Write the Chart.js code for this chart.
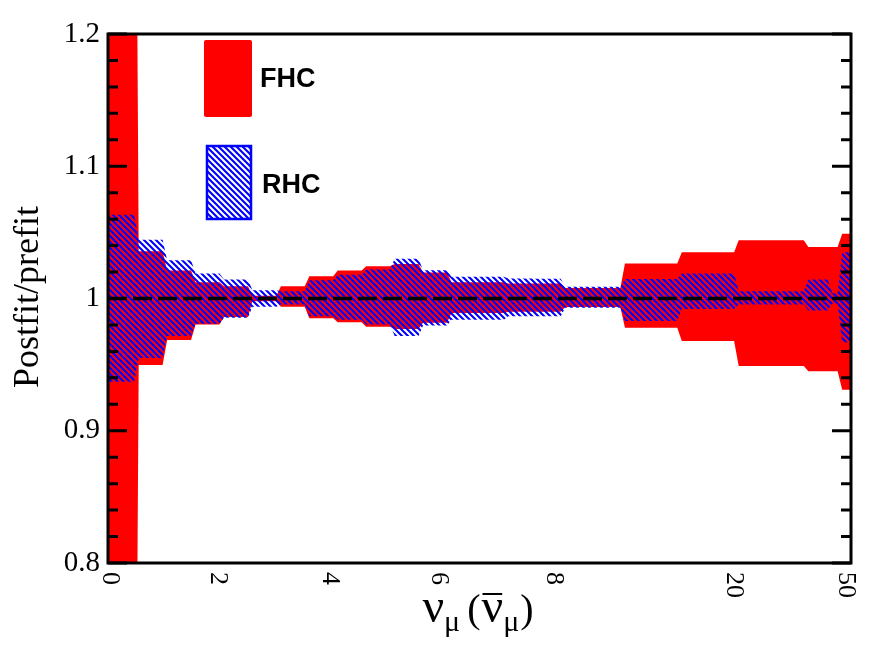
<!DOCTYPE html>
<html><head><meta charset="utf-8">
<script src="https://cdn.jsdelivr.net/npm/chart.js@4.4.1/dist/chart.umd.min.js"></script>
<style>html,body{margin:0;padding:0;background:#fff}#wrap{width:896px;height:672px;position:relative}</style>
</head><body><div id="wrap"><canvas id="c"></canvas></div>
<script>
// ---- data (bin index axis) ----
const binEdges = [0,1,2,3,4,5,6,7,8,9,10,11,12,13,14,15,16,18.1,20.1,22.1,24.55,25.39,25.74,26.13];
const fhcUpper = [1.6,1.0357,1.0211,1.0123,1.0093,1.002,1.0093,1.0168,1.0211,1.0244,1.026,1.0196,1.0123,1.0123,1.0113,1.0113,1.008,1.0264,1.035,1.044,1.039,1.039,1.049];
const fhcLower = [0.4,0.9497,0.9686,0.9804,0.986,0.998,0.9937,0.985,0.982,0.9786,0.977,0.9816,0.989,0.989,0.990,0.990,0.9935,0.9779,0.9678,0.949,0.945,0.945,0.931];
const rhcUpper = [1.0634,1.0445,1.0289,1.0189,1.0143,1.0063,1.0055,1.0138,1.018,1.0219,1.030,1.0214,1.0164,1.0164,1.0152,1.0149,1.0088,1.0148,1.0189,1.0055,1.0143,1.004,1.035];
const rhcLower = [0.937,0.955,0.9716,0.981,0.9854,0.9937,0.9955,0.9866,0.984,0.9804,0.9716,0.9796,0.984,0.984,0.9866,0.9866,0.993,0.983,0.992,0.9955,0.991,0.996,0.967];
const seriesNames = ['FHC','RHC'];
const tickPositions = [0.07,3.87,7.81,11.64,15.69,22.0,25.96];
const tickLabels = ['0','2','4','6','8','20','50'];
const yMin = 0.8, yMax = 1.2, yMajorStep = 0.1, yMinorStep = 0.02;
const refLine = 1;
const xMin = binEdges[0], xMax = binEdges[binEdges.length-1];

// step polygon points with short slanted transitions between bins
function stepPoints(edges, vals, s){
  const pts=[];
  for(let i=0;i<vals.length;i++){
    const a = i===0 ? edges[i] : edges[i]+s;
    const b = i===vals.length-1 ? edges[i+1] : edges[i+1]-s;
    pts.push({x:a,y:vals[i]},{x:b,y:vals[i]});
  }
  return pts;
}
const SL = 0.08;

// hatch pattern
const T=6;
const pc=document.createElement('canvas'); pc.width=T; pc.height=T;
const pg=pc.getContext('2d'); pg.strokeStyle='#0000ff'; pg.lineWidth=2.1;
pg.beginPath(); pg.moveTo(-2,-2); pg.lineTo(T+2,T+2); pg.moveTo(-2,T-2); pg.lineTo(2,T+2); pg.moveTo(T-2,-2); pg.lineTo(T+2,2); pg.stroke();
const hatch = pg.createPattern(pc,'repeat');

const clear='rgba(0,0,0,0)';
const deco = {
  id:'deco',
  afterDraw(chart){
    const {ctx, chartArea:a, scales:{x,y}} = chart;
    ctx.save();
    // y ticks (inward, both sides)
    ctx.strokeStyle='#000'; ctx.lineWidth=3;
    const n = Math.round((yMax-yMin)/yMinorStep);
    const per = Math.round(yMajorStep/yMinorStep);
    for(let i=0;i<=n;i++){
      const py=y.getPixelForValue(yMin+i*yMinorStep);
      const len = (i%per===0)?19:10;
      ctx.beginPath();
      ctx.moveTo(a.left,py); ctx.lineTo(a.left+len,py);
      ctx.moveTo(a.right,py); ctx.lineTo(a.right-len,py);
      ctx.stroke();
    }
    // frame
    ctx.lineWidth=3;
    ctx.strokeRect(a.left,a.top,a.right-a.left,a.bottom-a.top);
    // x tick labels rotated
    ctx.fillStyle='#000';
    ctx.font='26px "Liberation Serif"';
    ctx.textAlign='left'; ctx.textBaseline='middle';
    tickPositions.forEach((p,i)=>{
      const px=x.getPixelForValue(p);
      ctx.save(); ctx.translate(px, a.bottom+9); ctx.rotate(Math.PI/2);
      ctx.fillText(tickLabels[i],0,0); ctx.restore();
    });
    // y title
    ctx.save(); ctx.translate(29,297); ctx.rotate(-Math.PI/2);
    ctx.font='36px "Liberation Serif"'; ctx.textAlign='center'; ctx.textBaseline='middle';
    ctx.fillText('Postfit/prefit',0,0); ctx.restore();
    // x title: nu_mu (nubar_mu)
    const base=622;
    const parts=[
      {t:'ν',f:'48px "Liberation Serif"',dy:0,gap:0},
      {t:'μ',f:'30px "Liberation Serif"',dy:9,gap:7},
      {t:'(',f:'40px "Liberation Serif"',dy:0,gap:1},
      {t:'ν',f:'48px "Liberation Serif"',dy:0,gap:0,bar:true},
      {t:'μ',f:'30px "Liberation Serif"',dy:9,gap:1},
      {t:')',f:'40px "Liberation Serif"',dy:0,gap:0}
    ];
    ctx.textAlign='left'; ctx.textBaseline='alphabetic';
    let tot=0; parts.forEach(p=>{ctx.font=p.f; p.w=ctx.measureText(p.t).width; tot+=p.w+p.gap;});
    let cx=478-tot/2;
    parts.forEach(p=>{
      ctx.font=p.f; ctx.fillText(p.t,cx,base+p.dy);
      if(p.bar){ ctx.lineWidth=2; ctx.beginPath(); ctx.moveTo(cx+1,base-28); ctx.lineTo(cx+p.w-1,base-28); ctx.stroke(); }
      cx+=p.w+p.gap;
    });
    // legend
    ctx.fillStyle='#ff0000';
    ctx.beginPath(); ctx.roundRect(204,40,48,77,2); ctx.fill();
    ctx.fillStyle=hatch; ctx.fillRect(206,145,46,75);
    ctx.strokeStyle='#0000ff'; ctx.lineWidth=2.5; ctx.strokeRect(207,146,44,73);
    ctx.fillStyle='#000'; ctx.font='bold 27px "Liberation Sans"';
    ctx.textAlign='left'; ctx.textBaseline='middle';
    ctx.fillText(seriesNames[0],260,80);
    ctx.fillText(seriesNames[1],262,186);
    ctx.restore();
  }
};

new Chart(document.getElementById('c'),{
  type:'line',
  data:{datasets:[
    {label:seriesNames[0],data:stepPoints(binEdges,fhcUpper,SL),fill:'+1',backgroundColor:'#ff0000',borderColor:clear,borderWidth:1,pointRadius:0,tension:0,order:4},
    {label:seriesNames[0]+' low',data:stepPoints(binEdges,fhcLower,SL),fill:false,borderColor:clear,borderWidth:1,pointRadius:0,tension:0,order:4},
    {label:seriesNames[1],data:stepPoints(binEdges,rhcUpper,SL),fill:'+1',backgroundColor:hatch,borderColor:clear,borderWidth:1,pointRadius:0,tension:0,order:2},
    {label:seriesNames[1]+' low',data:stepPoints(binEdges,rhcLower,SL),fill:false,borderColor:clear,borderWidth:1,pointRadius:0,tension:0,order:2},
    {label:'ref',data:[{x:xMin,y:refLine},{x:xMax,y:refLine}],fill:false,borderColor:'#000',borderWidth:3.5,borderDash:[19,6],pointRadius:0,order:1}
  ]},
  options:{
    responsive:true, maintainAspectRatio:false, animation:false,
    layout:{padding:{top:34,right:45,left:0,bottom:0}},
    plugins:{legend:{display:false},tooltip:{enabled:false}},
    scales:{
      x:{type:'linear',min:xMin,max:xMax,grid:{display:false},border:{display:false},ticks:{display:false},
         afterFit:s=>{s.height=109;}},
      y:{type:'linear',min:yMin,max:yMax,grid:{display:false,drawTicks:false},border:{display:false},
         ticks:{stepSize:yMajorStep,padding:8,color:'#000',font:{family:'Liberation Serif',size:29},
           callback:v=>String(Math.round(v*10)/10)},
         afterFit:s=>{s.width=108;}}
    }
  },
  plugins:[deco]
});
</script></body></html>
